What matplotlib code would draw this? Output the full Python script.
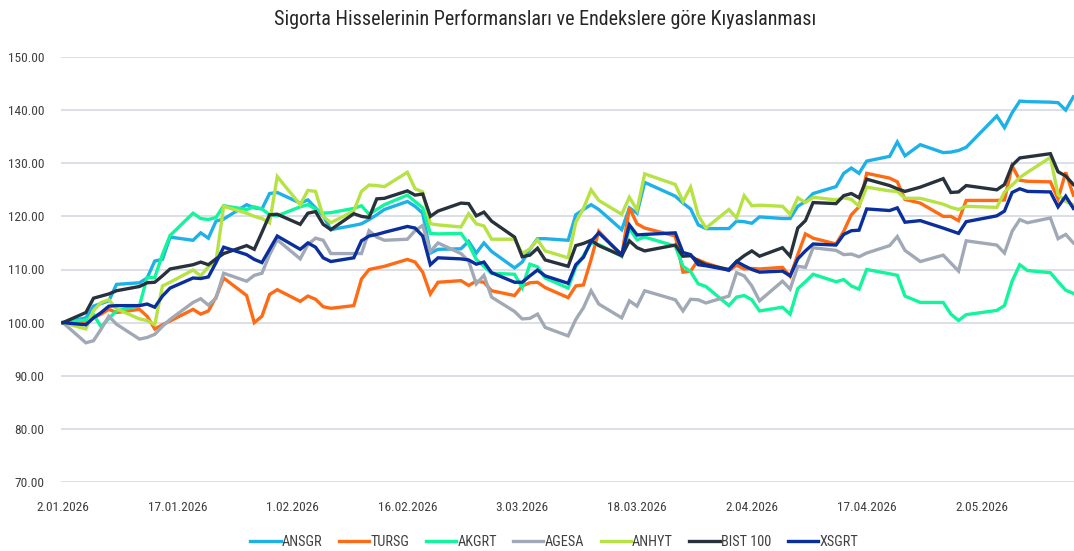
import matplotlib
matplotlib.use("Agg")
import matplotlib.pyplot as plt
import pandas as pd
from matplotlib import font_manager
from matplotlib.font_manager import FontProperties

# choose a narrow font if one is installed
narrow = None
for f in font_manager.fontManager.ttflist:
    fn = f.fname.lower()
    if ('narrow' in fn or 'condensed' in fn) and 'bold' not in fn and 'oblique' not in fn and 'italic' not in fn:
        if 'liberation' in fn or 'dejavusans' in fn or 'roboto' in fn or 'opensans' in fn or 'noto' in fn:
            narrow = f.fname
            if 'liberation' in fn:
                break
if narrow:
    font_manager.fontManager.addfont(narrow)
    fam = FontProperties(fname=narrow).get_name()
    plt.rcParams['font.family'] = [fam, 'DejaVu Sans']
    try:
        plt.rcParams['font.stretch'] = FontProperties(fname=narrow).get_stretch()
    except Exception:
        pass
    TS, FS, LS = 14.5, 9.6, 10.3
else:
    plt.rcParams['font.family'] = ['Liberation Sans', 'DejaVu Sans']
    TS, FS, LS = 12, 8.5, 9

title = "Sigorta Hisselerinin Performansları ve Endekslere göre Kıyaslanması"
holidays = ['2026-01-01', '2026-03-20', '2026-04-23', '2026-05-01']
dates = pd.bdate_range('2026-01-02', '2026-05-14', freq='C', holidays=holidays)

ANSGR = [100, 100.9, 103.1, 103.6, 104.1, 107.2, 107.5, 108.4, 111.6, 111.9, 116.1, 115.5, 116.9, 115.9, 119.1, 119.5, 122.2, 121.6, 121.4, 124.3, 124.5,
         122.5, 123.1, 121.6, 120.1, 117.5, 118.3, 118.6, 119.4, 120.3, 121.3, 122.8, 121.9, 120.6, 113.1, 113.8, 113.9, 115.3, 113.1, 115.0, 113.4,
         110.3, 111.4, 113.8, 115.8, 115.8, 115.5, 120.3, 121.3, 122.2, 121.3, 117.5, 121.6, 120.6, 126.4, 123.8, 122.5, 121.4, 118.4, 117.7, 117.7, 119.1,
         119.0, 118.7, 119.9, 119.6, 119.6, 121.9, 122.8, 124.3, 125.6, 128.1, 129.1, 128.1, 130.4, 131.3, 134.0, 131.4, 133.5, 132.0, 132.1, 132.4, 133.0,
         138.9, 136.7, 139.5, 141.7, 141.6, 141.5, 141.4, 140.0, 142.5]
TURSG = [100, 100.2, 100.9, 101.6, 102.5, 101.9, 102.5, 101.2, 98.8, 99.6, 100.3, 102.5, 101.6, 102.2, 104.8, 108.4, 105.1, 100.0, 101.2, 105.3, 106.2,
         104.0, 105.0, 104.4, 103.0, 102.7, 103.2, 108.2, 110.0, 110.3, 110.6, 111.9, 111.4, 109.5, 105.4, 107.6, 107.9, 107.0, 107.8, 107.6, 106.0,
         105.1, 106.9, 107.5, 107.6, 106.6, 104.7, 106.9, 107.1, 111.9, 117.2, 112.6, 121.6, 118.6, 117.8, 116.3, 109.5, 109.7, 111.8, 111.2, 109.8, 110.8,
         110.1, 110.2, 110.1, 110.4, 108.7, 112.8, 116.7, 115.9, 114.8, 117.2, 120.3, 121.8, 128.1, 127.2, 126.5, 123.2, 122.5, 120.0, 120.0, 119.2, 123.0,
         123.0, 123.1, 129.5, 126.8, 126.6, 126.5, 123.3, 128.3, 124.0]
AKGRT = [100, 100.5, 101.5, 99.2, 100.8, 102.2, 103.2, 108.5, 108.5, 112.8, 116.4, 120.6, 119.6, 119.4, 119.8, 122.0, 121.3, 121.8, 121.4, 120.3, 120.1,
         121.8, 122.2, 121.4, 120.6, 120.7, 121.5, 122.0, 120.4, 121.3, 122.2, 124.0, 122.8, 121.6, 116.8, 116.7, 116.8, 114.8, 111.9, 110.6, 109.3,
         109.1, 106.6, 111.0, 110.5, 108.4, 106.5, 110.5, 112.6, 115.0, 114.7, 112.5, 117.7, 115.6, 116.1, 114.4, 110.6, 109.6, 107.3, 106.8, 103.2, 104.8,
         105.1, 104.3, 102.2, 102.9, 101.6, 106.4, 107.7, 109.1, 107.7, 108.1, 106.9, 106.3, 110.0, 109.2, 108.9, 105.0, 103.8, 103.8, 101.6, 100.4, 101.5,
         102.3, 103.2, 107.8, 110.9, 109.8, 109.4, 107.7, 106.1, 105.5]
AGESA = [100, 96.2, 96.6, 98.8, 101.2, 99.7, 96.9, 97.2, 97.8, 99.3, 100.6, 103.8, 104.5, 103.3, 104.6, 109.3, 107.8, 108.9, 109.3, 112.8, 115.6,
         112.0, 114.7, 115.9, 115.5, 113.0, 113.0, 113.0, 117.3, 116.1, 115.5, 115.7, 117.3, 118.3, 113.4, 115.0, 113.0, 111.6, 107.3, 108.9, 104.8,
         102.1, 100.7, 100.8, 101.6, 99.1, 97.5, 100.6, 102.8, 106.0, 103.5, 100.9, 104.1, 103.1, 106.0, 104.3, 102.2, 104.4, 104.3, 103.7, 105.0, 109.4,
         108.8, 106.9, 104.1, 107.8, 106.3, 110.6, 110.4, 114.1, 113.6, 112.8, 112.9, 112.4, 113.1, 114.5, 116.2, 113.6, 111.5, 112.7, 111.2, 109.7, 115.4,
         114.6, 113.1, 117.2, 119.4, 118.8, 119.7, 115.8, 116.6, 115.0]
ANHYT = [100, 98.8, 102.3, 103.8, 104.3, 102.6, 100.7, 100.4, 99.6, 106.9, 107.6, 109.9, 108.8, 110.5, 111.5, 121.9, 120.6, 120.0, 119.6, 118.8, 127.5,
         122.2, 124.9, 124.7, 120.0, 118.8, 121.0, 124.7, 125.9, 125.8, 125.6, 128.3, 125.2, 124.6, 118.6, 118.4, 118.0, 120.5, 118.6, 118.2, 115.7,
         115.7, 113.0, 113.9, 115.6, 113.5, 112.2, 118.9, 121.5, 125.0, 123.0, 120.4, 123.6, 121.2, 128.0, 126.0, 122.8, 125.5, 120.2, 117.8, 121.3, 119.7,
         123.9, 122.0, 122.1, 121.9, 120.4, 123.5, 122.6, 123.6, 123.1, 123.5, 123.2, 121.9, 125.5, 124.8, 124.7, 123.4, 123.4, 122.3, 121.7, 121.3, 121.9,
         121.7, 124.6, 125.9, 127.3, 128.3, 131.1, 124.1, 122.8, 122.2]
BIST100 = [100, 101.9, 104.6, 105.0, 105.4, 106.0, 106.8, 107.5, 107.6, 108.8, 110.1, 110.9, 111.4, 110.9, 112.0, 113.0, 114.5, 113.8, 117.0, 120.3, 120.4,
           118.5, 120.6, 120.9, 118.5, 117.5, 120.5, 120.0, 119.8, 123.3, 123.4, 124.8, 124.0, 124.2, 120.0, 121.0, 122.5, 122.4, 120.1, 120.8, 119.1,
           116.1, 112.4, 112.7, 114.0, 111.8, 110.6, 114.5, 114.9, 115.5, 114.5, 112.6, 115.4, 114.1, 113.5, 114.6, 112.5, 112.6, 111.6, 110.9, 110.0, 111.5,
           112.6, 113.5, 112.5, 114.1, 112.5, 117.8, 119.2, 122.6, 122.4, 123.9, 124.3, 123.5, 127.0, 125.8, 125.2, 124.7, 125.5, 127.1, 124.5, 124.6, 125.8,
           125.0, 126.0, 129.6, 131.0, 131.2, 131.8, 128.4, 127.6, 126.0]
XSGRT = [100, 99.6, 100.9, 101.9, 103.1, 103.2, 103.2, 103.5, 102.9, 105.0, 106.5, 108.4, 108.3, 108.6, 111.3, 114.2, 112.8, 111.9, 111.3, 113.8, 116.3,
         113.8, 115.0, 114.2, 112.2, 111.5, 112.2, 115.4, 116.3, 116.6, 117.0, 118.1, 117.8, 116.3, 110.9, 112.2, 112.0, 111.8, 111.0, 111.4, 109.4,
         107.6, 107.6, 108.8, 109.9, 108.8, 107.4, 110.9, 112.3, 115.3, 116.9, 112.8, 118.4, 116.5, 116.6, 116.9, 113.2, 112.8, 110.9, 110.7, 109.9, 111.5,
         110.7, 110.0, 109.5, 109.7, 108.8, 112.0, 113.5, 114.8, 114.6, 116.6, 117.3, 117.4, 121.4, 121.1, 121.6, 118.9, 119.2, 117.8, 117.3, 116.8, 119.0,
         120.1, 121.0, 124.5, 125.2, 124.7, 124.6, 121.8, 123.8, 121.5]

series_names = ["ANSGR", "TURSG", "AKGRT", "AGESA", "ANHYT", "BIST 100", "XSGRT"]
series_values = [ANSGR, TURSG, AKGRT, AGESA, ANHYT, BIST100, XSGRT]
colors = ["#1eb1e7", "#ff6b14", "#12f59c", "#a1a9b6", "#b6e244", "#28323d", "#0a2e9b"]
yticks = [70, 80, 90, 100, 110, 120, 130, 140, 150]
xticks = pd.date_range('2026-01-02', periods=9, freq='15D')

fig = plt.figure(figsize=(10.74, 5.51), dpi=100)
ax = fig.add_axes([61/1074, (551-482)/551, (1074-61)/1074, (482-57)/551])

for name, vals, c in zip(series_names, series_values, colors):
    ax.plot(dates[:len(vals)], vals, color=c, lw=2.4, label=name, solid_joinstyle='miter')

ax.set_ylim(70, 150)
ax.set_yticks(yticks)
ax.set_yticklabels([f"{v:.2f}" for v in yticks])
ax.set_xlim(dates[0] - pd.Timedelta(hours=6), dates[-1] + pd.Timedelta(hours=2))
ax.set_xticks(xticks)
ax.set_xticklabels([f"{d.day}.{d.month:02d}.{d.year}" for d in xticks])
ax.grid(axis='y', color='#d9dde4', lw=1.3)
ax.set_axisbelow(True)
for s in ax.spines.values():
    s.set_visible(False)
ax.tick_params(axis='both', length=0, labelsize=FS, colors='#404040')
ax.tick_params(axis='y', pad=12)
ax.tick_params(axis='x', pad=14)

fig.suptitle(title, x=0.508, y=0.982, fontsize=TS, color='#262626', va='top')
fig.legend(loc='center', bbox_to_anchor=(0.516, 0.016), ncol=7, frameon=False,
           fontsize=LS, handlelength=2.1, handletextpad=0.1, columnspacing=1.15,
           labelcolor='#404040')
fig.savefig('out.png', dpi=100)
